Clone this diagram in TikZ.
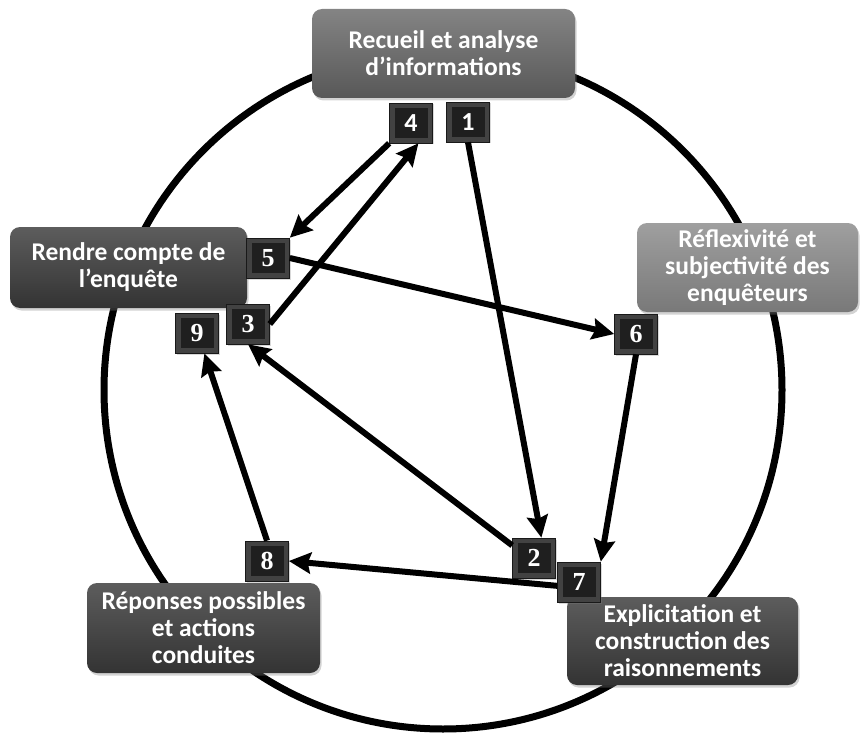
\documentclass[tikz,border=0pt]{standalone}
\usepackage{fontspec}
\setmainfont{Carlito}
\newfontfamily\numfont{Liberation Serif}
\usetikzlibrary{arrows.meta,shadows}
\definecolor{midgray}{HTML}{6E6E6E}
\definecolor{lightgray}{HTML}{8E8E8E}
\definecolor{darkgray}{HTML}{404040}
\begin{document}
\begin{tikzpicture}[x=1pt,y=-1pt,
  box/.style={rounded corners=10pt, align=center, text=white, inner sep=0pt,
    font=\bfseries\fontsize{25.5}{27}\selectfont,
    drop shadow={opacity=0.35,shadow xshift=1.5pt,shadow yshift=-2.5pt}},
  boxmid/.style={box, top color=midgray!85!white, bottom color=midgray!80!black},
  boxlight/.style={box, top color=lightgray!85!white, bottom color=lightgray!85!black},
  boxdark/.style={box, top color=darkgray!85!white, bottom color=darkgray!80!black},
  num/.style={minimum width=43pt, minimum height=40pt, inner sep=0pt,
    fill=black!74, draw=black!90, line width=0.6pt, text=white,
    font=\bfseries\fontsize{26}{26}\selectfont,
    drop shadow={opacity=0.3,shadow xshift=1pt,shadow yshift=-1.5pt},
    path picture={\fill[black!88] ([shift={(5pt,-5pt)}]path picture bounding box.north west) rectangle ([shift={(-5pt,5pt)}]path picture bounding box.south east);}},
  arr/.style={line width=6pt, -{Stealth[length=22pt,width=21pt,inset=3pt]}},
]
\useasboundingbox (0,0) rectangle (865,733);
\draw[line width=7pt] (443,390) circle[radius=339];

% main boxes
\node[boxmid, minimum width=263pt, minimum height=89pt] (recueil) at (443.5,53.5) {Recueil et analyse\\d’informations};
\node[boxdark, minimum width=237pt, minimum height=81pt] (rendre) at (128.5,267.5) {Rendre compte de\\l’enquête};
\node[boxlight, minimum width=221pt, minimum height=89pt] (reflex) at (747.5,267.5) {Réflexivité et\\subjectivité des\\enquêteurs};
\node[boxdark, minimum width=233pt, minimum height=90pt] (reponses) at (203.5,628) {Réponses possibles\\et actions\\conduites};
\node[boxdark, minimum width=231pt, minimum height=88pt] (explic) at (682.5,641) {Explicitation et\\construction des\\raisonnements};

% numbered squares
\node[num] (n4) at (411,123) {\raisebox{-5pt}{4}};
\node[num] (n1) at (468,122) {\raisebox{-5pt}{1}};
\node[num] (n5) at (268,258) {\raisebox{-5pt}{\numfont 5}};
\node[num] (n9) at (197,333) {\raisebox{-5pt}{\numfont 9}};
\node[num] (n3) at (248,324) {\raisebox{-5pt}{\numfont 3}};
\node[num] (n6) at (636,334) {\raisebox{-5pt}{\numfont 6}};
\node[num] (n8) at (267,561) {\raisebox{-5pt}{\numfont 8}};
\node[num] (n2) at (534,558) {\raisebox{-5pt}{\numfont 2}};
\node[num] (n7) at (579,582) {\raisebox{-5pt}{\numfont 7}};

% arrows
\draw[arr] (n1.south) -- (n2.70);
\draw[arr] (n2.150) -- (n3.south);
\draw[arr] (n3.east) -- (n4.-70);
\draw[arr] (n4.south west) -- (n5.north east);
\draw[arr] (n5.east) -- (n6.west);
\draw[arr] (n6.south) -- (n7.north east);
\draw[arr] (n7.190) -- (n8.east);
\draw[arr] (n8.north) -- (n9.-70);
\end{tikzpicture}
\end{document}
